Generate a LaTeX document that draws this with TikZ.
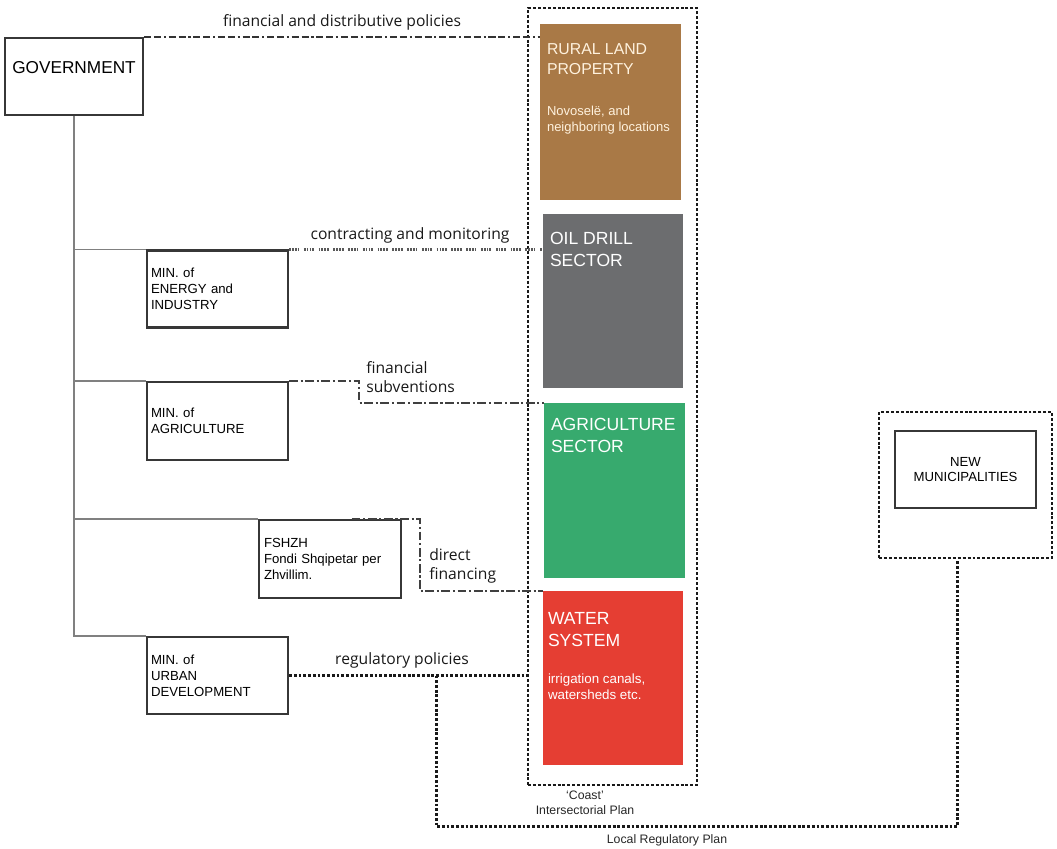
\documentclass[tikz,border=0pt]{standalone}
\usepackage{fontspec}
\setmainfont{Liberation Sans}
\newfontfamily\lblfont{Open Sans}
\usetikzlibrary{positioning,calc}
\definecolor{landbrown}{RGB}{169,121,70}
\definecolor{oilgrey}{RGB}{108,109,111}
\definecolor{agrigreen}{RGB}{55,170,110}
\definecolor{waterred}{RGB}{229,62,51}
\definecolor{framegrey}{RGB}{55,55,55}
\definecolor{cream}{RGB}{255,242,222}

\begin{document}
\begin{tikzpicture}[
    x=0.02cm, y=-0.02cm,
    box/.style={rectangle, draw=framegrey, line width=1.3pt, inner sep=0pt, font=\fontsize{7.5}{9}\selectfont},
    minbox/.style={box, minimum width=2.82cm, minimum height=1.54cm, align=left, text width=2.66cm},
    sector/.style={rectangle, minimum width=2.8cm, minimum height=3.5cm, inner sep=0pt},
    stitle/.style={anchor=north west, align=left, inner sep=0pt, text=white, font=\fontsize{10}{12.5}\selectfont},
    ssub/.style={anchor=north west, align=left, inner sep=0pt, text=white, font=\fontsize{7.6}{9}\selectfont},
    plan/.style={draw=black!90, line width=1.6pt, dash pattern=on 1.7pt off 1.1pt},
    lbl/.style={font=\lblfont\fontsize{8.9}{10.8}\selectfont, inner sep=0pt, text=black!90},
    small/.style={font=\fontsize{7}{8.6}\selectfont, inner sep=0pt, align=center, text=black!85},
    tree/.style={draw=gray, line width=0.8pt},
    findash/.style={draw=black!80, line width=1.3pt, dash pattern=on 4pt off 1.6pt on 4pt off 1.6pt on 1.2pt off 1.6pt},
    contractdash/.style={draw=black!65, line width=1.4pt, dash pattern=on 1pt off 0.6pt on 1pt off 0.6pt on 1pt off 0.6pt on 1pt off 2.6pt},
    subvdash/.style={draw=black!75, line width=1.3pt, dash pattern=on 5pt off 1.5pt on 1.2pt off 1.5pt},
    regdot/.style={draw=black!90, line width=1.4pt, dash pattern=on 1.6pt off 1.1pt}
]
    \useasboundingbox (0,0) rectangle (1057,848);

    % Government and ministries
    \node[box, minimum width=2.76cm, minimum height=1.54cm, text depth=0.38cm, font=\fontsize{9.8}{12}\selectfont] (gov) at (74,76.5) {GOVERNMENT};
    \node[minbox] (energy) at (217.5,289) {MIN. of\\ENERGY and\\INDUSTRY};
    \node[minbox, minimum height=1.56cm] (agri) at (217.5,421) {MIN. of\\AGRICULTURE};
    \node[minbox, minimum width=2.84cm, text width=2.64cm, minimum height=1.56cm] (fund) at (330,559) {FSHZH\\Fondi Shqipetar per\\Zhvillim.};
    \node[minbox] (urban) at (217.5,675.5) {MIN. of\\URBAN\\DEVELOPMENT};

    % Tree
    \draw[tree] (gov.south) |- (urban.north west);
    \draw[tree] (gov.south |- energy.north west) -- (energy.north west);
    \draw[tree] (gov.south |- agri.north west) -- (agri.north west);
    \draw[tree] (gov.south |- fund.north west) -- (fund.north west);

    % Coast plan
    \node[plan, minimum width=3.38cm, minimum height=15.54cm] (coast) at (612.5,396.5) {};
    \node[sector, fill=landbrown, minimum width=2.82cm, minimum height=3.52cm] (rural) at (610.5,112) {};
    \node[sector, fill=oilgrey, minimum height=3.48cm] (oil) at (613,301) {};
    \node[sector, fill=agrigreen, minimum width=2.82cm] (agrisec) at (614.5,490.5) {};
    \node[sector, fill=waterred, minimum height=3.48cm] (water) at (613,678) {};

    \node[stitle, text=cream, font=\fontsize{9}{11.3}\selectfont] (rural-t) at ([shift={(7,20)}]rural.north west) {RURAL LAND\\PROPERTY};
    \node[ssub, text=cream, font=\fontsize{7.4}{9}\selectfont] (rural-s) at ([shift={(7,82)}]rural.north west) {Novoselë, and\\neighboring locations};
    \node[stitle] (oil-t) at ([shift={(7,18)}]oil.north west) {OIL DRILL\\SECTOR};
    \node[stitle] (agrisec-t) at ([shift={(7,15)}]agrisec.north west) {AGRICULTURE\\SECTOR};
    \node[stitle] (water-t) at ([shift={(5,21)}]water.north west) {WATER\\SYSTEM};
    \node[ssub] (water-s) at ([shift={(5,83)}]water.north west) {irrigation canals,\\watersheds etc.};

    \node[small] (coast-l) at (585,803) {`Coast'\\Intersectorial Plan};

    % New municipalities
    \node[plan, minimum width=3.46cm, minimum height=2.92cm] (muni) at (965.5,485) {};
    \node[box, minimum width=2.82cm, minimum height=1.54cm, align=center] (muni-in) at (965.5,469.5) {NEW\\MUNICIPALITIES};

    % Relations
    \draw[findash] (gov.north east) -- (gov.north east -| rural.west);
    \draw[contractdash] (energy.north east) -- (energy.north east -| oil.west);
    \draw[subvdash] (agri.north east) -- ++(70,0) |- (agrisec.north west);
    \coordinate (fundsplit) at ($(fund.north west)!0.65!(fund.north east)$);
    \draw[subvdash] (fundsplit) -- ++(68,0) |- (water.north west);
    \draw[regdot] (urban.east) -- (urban.east -| coast.west);
    \coordinate (regsplit) at ($(urban.east)!0.62!(urban.east -| coast.west)$);
    \draw[regdot] (regsplit) -- ++(0,151) -| ([xshift=-0.16cm]muni.south);

    % Labels
    \node[lbl] (fin-l) at (342,22) {financial and distributive policies};
    \node[lbl] (contract-l) at (410,235) {contracting and monitoring};
    \node[lbl, anchor=west, align=left] (subv-l) at (366,377) {financial\\subventions};
    \node[lbl, anchor=west, align=left] (direct-l) at (429,566) {direct\\financing};
    \node[lbl] (reg-l) at (402,660) {regulatory policies};
    \node[small] (local-l) at (667,840) {Local Regulatory Plan};
\end{tikzpicture}
\end{document}
